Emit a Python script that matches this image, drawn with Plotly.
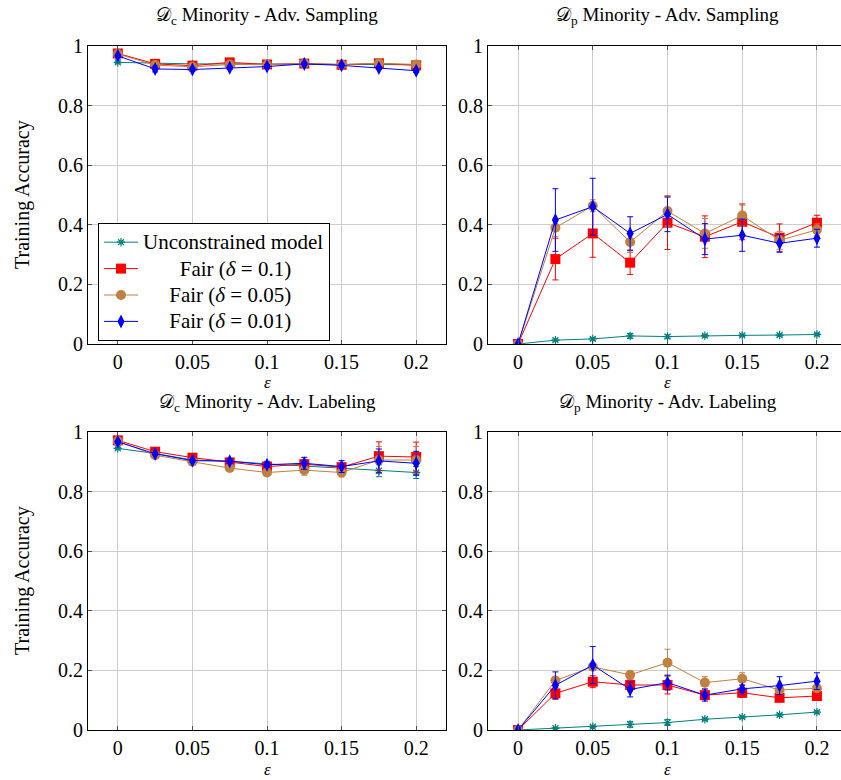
import plotly.graph_objects as go
from plotly.subplots import make_subplots

# Attack budget (fraction of poisoned points)
eps = [0, 0.025, 0.05, 0.075, 0.1, 0.125, 0.15, 0.175, 0.2]
x_ticks = [0, 0.05, 0.1, 0.15, 0.2]
y_ticks = [0, 0.2, 0.4, 0.6, 0.8, 1]

NB = "\u00a0"
series_names = [
    "Unconstrained model",
    NB * 7 + "Fair (<i>δ</i> = 0.1)",
    NB * 5 + "Fair (<i>δ</i> = 0.05)",
    NB * 5 + "Fair (<i>δ</i> = 0.01)",
]

# D_c minority, adversarial sampling
cs_unc = [0.945, 0.942, 0.940, 0.940, 0.939, 0.940, 0.938, 0.938, 0.937]
cs_unc_err = [0.004, 0.003, 0.003, 0.003, 0.003, 0.003, 0.003, 0.003, 0.003]
cs_f01 = [0.975, 0.940, 0.934, 0.945, 0.938, 0.941, 0.937, 0.942, 0.935]
cs_f01_err = [0.005, 0.005, 0.005, 0.005, 0.005, 0.004, 0.004, 0.004, 0.004]
cs_f005 = [0.973, 0.936, 0.930, 0.938, 0.937, 0.942, 0.938, 0.942, 0.938]
cs_f005_err = [0.005, 0.005, 0.005, 0.005, 0.005, 0.004, 0.004, 0.004, 0.004]
cs_f001 = [0.967, 0.923, 0.921, 0.927, 0.931, 0.940, 0.935, 0.926, 0.917]
cs_f001_err = [0.005, 0.010, 0.006, 0.006, 0.006, 0.004, 0.005, 0.005, 0.006]

# D_p minority, adversarial sampling
ps_unc = [0, 0.013, 0.017, 0.027, 0.025, 0.028, 0.029, 0.030, 0.032]
ps_unc_err = [0, 0.004, 0.005, 0.008, 0.006, 0.004, 0.004, 0.004, 0.004]
ps_f01 = [0, 0.285, 0.371, 0.273, 0.407, 0.360, 0.410, 0.357, 0.407]
ps_f01_err = [0, 0.070, 0.080, 0.040, 0.090, 0.070, 0.060, 0.046, 0.025]
ps_f005 = [0, 0.390, 0.464, 0.342, 0.446, 0.371, 0.431, 0.348, 0.383]
ps_f005_err = [0, 0.030, 0.020, 0.035, 0.050, 0.050, 0.035, 0.030, 0.020]
ps_f001 = [0, 0.416, 0.461, 0.371, 0.435, 0.352, 0.365, 0.338, 0.355]
ps_f001_err = [0, 0.105, 0.095, 0.056, 0.058, 0.052, 0.054, 0.030, 0.030]

# D_c minority, adversarial labeling
cl_unc = [0.945, 0.928, 0.906, 0.902, 0.893, 0.886, 0.878, 0.870, 0.864]
cl_unc_err = [0.003, 0.003, 0.003, 0.004, 0.004, 0.004, 0.005, 0.020, 0.020]
cl_f01 = [0.972, 0.934, 0.914, 0.898, 0.884, 0.892, 0.882, 0.919, 0.916]
cl_f01_err = [0.005, 0.005, 0.005, 0.008, 0.010, 0.015, 0.012, 0.048, 0.050]
cl_f005 = [0.970, 0.922, 0.900, 0.879, 0.864, 0.872, 0.864, 0.906, 0.906]
cl_f005_err = [0.005, 0.005, 0.005, 0.006, 0.008, 0.017, 0.015, 0.045, 0.045]
cl_f001 = [0.967, 0.927, 0.904, 0.902, 0.890, 0.895, 0.884, 0.903, 0.895]
cl_f001_err = [0.004, 0.004, 0.005, 0.008, 0.008, 0.020, 0.020, 0.040, 0.040]

# D_p minority, adversarial labeling
pl_unc = [0, 0.006, 0.011, 0.019, 0.025, 0.036, 0.043, 0.051, 0.060]
pl_unc_err = [0, 0.002, 0.003, 0.010, 0.010, 0.004, 0.004, 0.004, 0.004]
pl_f01 = [0, 0.123, 0.162, 0.151, 0.151, 0.117, 0.125, 0.108, 0.114]
pl_f01_err = [0, 0.020, 0.020, 0.020, 0.030, 0.012, 0.015, 0.012, 0.010]
pl_f005 = [0, 0.166, 0.212, 0.185, 0.226, 0.159, 0.172, 0.134, 0.140]
pl_f005_err = [0, 0.012, 0.012, 0.010, 0.045, 0.020, 0.020, 0.010, 0.010]
pl_f001 = [0, 0.150, 0.218, 0.136, 0.159, 0.117, 0.138, 0.149, 0.164]
pl_f001_err = [0, 0.045, 0.062, 0.025, 0.025, 0.020, 0.012, 0.030, 0.028]

panel_titles = [
    "𝒟<sub>c</sub> Minority - Adv. Sampling",
    "𝒟<sub>p</sub> Minority - Adv. Sampling",
    "𝒟<sub>c</sub> Minority - Adv. Labeling",
    "𝒟<sub>p</sub> Minority - Adv. Labeling",
]
y_title = "Training Accuracy"
x_title = "<i>ε</i>"

panels = [
    [(cs_unc, cs_unc_err), (cs_f01, cs_f01_err), (cs_f005, cs_f005_err), (cs_f001, cs_f001_err)],
    [(ps_unc, ps_unc_err), (ps_f01, ps_f01_err), (ps_f005, ps_f005_err), (ps_f001, ps_f001_err)],
    [(cl_unc, cl_unc_err), (cl_f01, cl_f01_err), (cl_f005, cl_f005_err), (cl_f001, cl_f001_err)],
    [(pl_unc, pl_unc_err), (pl_f01, pl_f01_err), (pl_f005, pl_f005_err), (pl_f001, pl_f001_err)],
]

colors = ["rgb(0,128,128)", "rgb(255,0,0)", "rgb(191,128,64)", "rgb(0,0,255)"]
styles = [
    dict(symbol="asterisk-open", size=7, line=dict(width=1.2, color=colors[0])),
    dict(symbol="square", size=10, line=dict(width=0)),
    dict(symbol="circle", size=10, line=dict(width=0)),
    dict(symbol="diamond-tall", size=10, line=dict(width=0)),
]

FONT = "Liberation Serif"
W, H = 841, 780

fig = make_subplots(rows=2, cols=2)

for p, series in enumerate(panels):
    row, col = p // 2 + 1, p % 2 + 1
    for s, (vals, errs) in enumerate(series):
        fig.add_trace(
            go.Scatter(
                x=eps, y=vals, mode="lines+markers",
                name=f'<span style="font-size:21px">{series_names[s]}</span>',
                showlegend=(p == 0),
                line=dict(color=colors[s], width=1),
                marker=dict(color=colors[s], **styles[s]),
                error_y=dict(type="data", array=errs, visible=True,
                             color=colors[s], thickness=1, width=3),
            ),
            row=row, col=col,
        )

# panel placement (pixels -> paper fractions)
left_px = (88, 446)
right_px = (488, 841)
top_px = (46, 344)
bot_px = (432, 730)


def xdom(a, b):
    return [a / W, b / W]


def ydom(a, b):
    return [1 - b / H, 1 - a / H]


axis_common = dict(
    automargin=False,
    showgrid=True, gridcolor="rgb(205,205,205)", gridwidth=1, zeroline=False,
    showline=True, linecolor="black", linewidth=1,
    ticks="inside", ticklen=4, tickcolor="rgb(80,80,80)",
    tickfont=dict(family=FONT, size=20, color="black"),
)

domains = [
    (xdom(*left_px), ydom(*top_px), [-0.02, 0.22], True),
    (xdom(*right_px), ydom(*top_px), [-0.0201, 0.2161], False),
    (xdom(*left_px), ydom(*bot_px), [-0.02, 0.22], True),
    (xdom(*right_px), ydom(*bot_px), [-0.0201, 0.2161], False),
]

for i, (xd, yd, xr, is_left) in enumerate(domains):
    sfx = "" if i == 0 else str(i + 1)
    fig.layout["xaxis" + sfx].update(
        domain=xd, range=xr, tickvals=x_ticks, mirror="allticks", **axis_common,
    )
    fig.layout["yaxis" + sfx].update(
        domain=yd, range=[0, 1], tickvals=y_ticks,
        mirror="allticks" if is_left else False, **axis_common,
    )

# panel titles
title_pos = [
    (sum(xdom(*left_px)) / 2, 16),
    (sum(xdom(488, 847)) / 2, 16),
    (sum(xdom(*left_px)) / 2, 403),
    (sum(xdom(488, 847)) / 2, 403),
]
for text, (tx, ty) in zip(panel_titles, title_pos):
    fig.add_annotation(text=text, x=tx, y=1 - ty / H, xref="paper", yref="paper",
                       xanchor="center", yanchor="middle", showarrow=False,
                       font=dict(family=FONT, size=19, color="black"))

# x-axis titles under each panel
for cx in (sum(xdom(*left_px)) / 2, sum(xdom(488, 847)) / 2):
    for cy in (382, 769):
        fig.add_annotation(text=x_title, x=cx, y=1 - cy / H, xref="paper", yref="paper",
                           xanchor="center", yanchor="middle", showarrow=False,
                           borderpad=0,
                           font=dict(family=FONT, size=17, color="black"))

# y-axis titles beside the left panels
for (a, b) in (top_px, bot_px):
    fig.add_annotation(text=y_title, x=22 / W, y=1 - (a + b) / 2 / H,
                       xref="paper", yref="paper", textangle=-90,
                       xanchor="center", yanchor="middle", showarrow=False,
                       font=dict(family=FONT, size=20, color="black"))

fig.update_layout(
    width=W, height=H,
    margin=dict(l=0, r=0, t=0, b=0),
    paper_bgcolor="white", plot_bgcolor="white",
    font=dict(family=FONT, size=20, color="black"),
    legend=dict(
        x=98 / W, y=1 - 223 / H, xanchor="left", yanchor="top",
        bgcolor="white", bordercolor="black", borderwidth=1,
        font=dict(family=FONT, size=18),
        itemwidth=34,
    ),
)

fig.write_html("out.html")
